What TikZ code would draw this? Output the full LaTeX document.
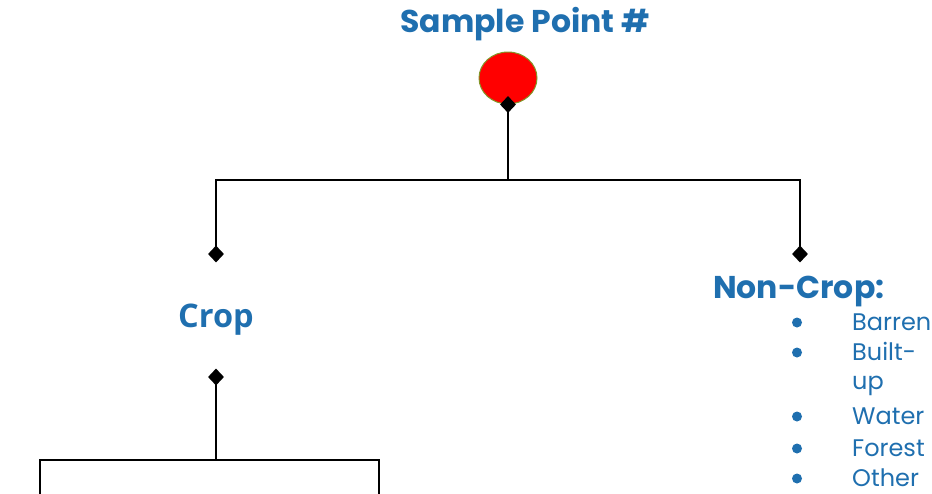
\documentclass[tikz,border=0pt]{standalone}
\usepackage{fontspec}
\setmainfont{Poppins}
\newfontfamily\cropfont{Open Sans}
\usetikzlibrary{shapes.geometric}
\definecolor{titleblue}{RGB}{31,111,175}
\definecolor{rimgreen}{RGB}{130,150,40}
\tikzset{
  conn/.style={line width=2pt, black},
  dia/.style={diamond, fill=black, inner sep=0pt, minimum width=16pt, minimum height=17pt},
  heading/.style={text=titleblue, font=\bfseries\fontsize{31.5}{38}\selectfont, inner sep=0pt},
  listtext/.style={text=titleblue, font=\fontsize{24}{31}\selectfont, inner sep=0pt, align=left},
}
\begin{document}
\begin{tikzpicture}[x=1pt,y=-1pt]
\useasboundingbox (0,0) rectangle (932,493);
% nodes
\node[heading, anchor=base] (title) at (525,32) {Sample Point \#};
\node[ellipse, fill=red, draw=rimgreen, line width=1pt, minimum width=58pt, minimum height=52pt, inner sep=0pt] (pt) at (508,78) {};
\node[text=titleblue, font=\cropfont\bfseries\fontsize{32.5}{40}\selectfont, inner sep=0pt, anchor=base] (crop) at (216,327) {Crop};
\node[heading, anchor=base west] (noncrop) at (713,298) {Non-Crop:};
% list
\node[listtext, anchor=base west] (l1) at (852,330) {Barren};
\node[listtext, anchor=base west] (l2) at (852,360) {Built-};
\node[listtext, anchor=base west] (l2b) at (852,389) {up};
\node[listtext, anchor=base west] (l3) at (852,424) {Water};
\node[listtext, anchor=base west] (l4) at (852,456) {Forest};
\node[listtext, anchor=base west] (l5) at (852,486) {Other};
\foreach \n in {l1,l2,l3,l4,l5}{
  \fill[titleblue] (797,0 |- \n.base) ++(0,-7.5) circle (5pt);
}
% connection points
\coordinate (fork) at (508,180);
\coordinate (cropTop) at (216,254);
\coordinate (nonTop) at (800,254);
\coordinate (cropBot) at (216,377);
\coordinate (fork2) at (216,460);
\coordinate (leafA) at (40,495);
\coordinate (leafB) at (379,495);
% connectors
\draw[conn] (pt.south) -- (fork);
\draw[conn] (fork) -| (cropTop);
\draw[conn] (fork) -| (nonTop);
\draw[conn] (cropBot) -- (fork2);
\draw[conn] (fork2) -| (leafA);
\draw[conn] (fork2) -| (leafB);
% diamonds
\node[dia] at (pt.south) {};
\node[dia] at (cropTop) {};
\node[dia] at (nonTop) {};
\node[dia] at (cropBot) {};
\end{tikzpicture}
\end{document}
